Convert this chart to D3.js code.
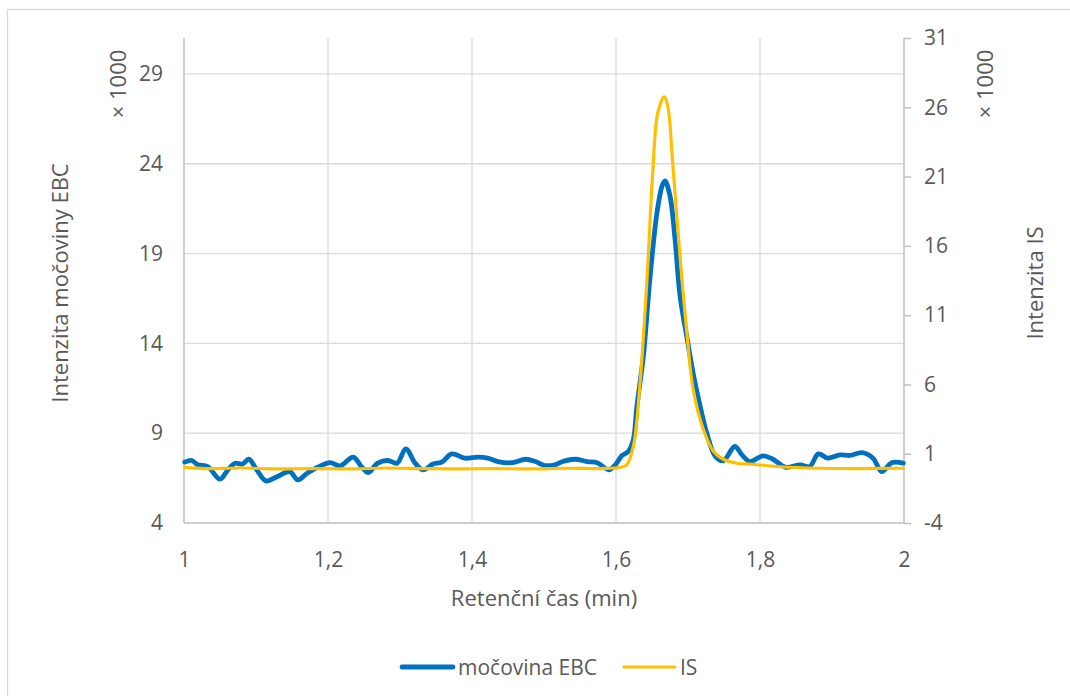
<!DOCTYPE html>
<html lang="cs">
<head>
<meta charset="utf-8">
<title>Intenzita močoviny EBC a IS</title>
<script src="https://cdn.jsdelivr.net/npm/d3@7"></script>
<style>
  body { margin: 0; background: #fff; }
  svg text { font-family: "Open Sans", sans-serif; fill: #595959; }
  .tick text { font-size: 21px; }
  .title { font-size: 22px; }
  .legend text { font-size: 21px; }
  .grid line { stroke: #d9d9d9; stroke-width: 1.3; }
</style>
</head>
<body>
<svg id="chart" width="1070" height="696"></svg>
<script>
// retention time (min) and intensities (x 1000)
var ebcTime = [1.001, 1.011, 1.019, 1.033, 1.050, 1.061, 1.071, 1.081, 1.090, 1.101, 1.114, 1.129, 1.147, 1.158, 1.171, 1.185,
  1.203, 1.217, 1.235, 1.247, 1.256, 1.269, 1.283, 1.296, 1.308, 1.321, 1.332, 1.346, 1.358, 1.372, 1.390, 1.408, 1.422,
  1.436, 1.456, 1.474, 1.488, 1.501, 1.515, 1.526, 1.543, 1.560, 1.574, 1.590, 1.599, 1.608, 1.617, 1.624, 1.629, 1.638,
  1.647, 1.657, 1.664, 1.668, 1.675, 1.682, 1.689, 1.699, 1.707, 1.717, 1.726, 1.738, 1.749, 1.765, 1.775, 1.786, 1.804,
  1.818, 1.835, 1.856, 1.869, 1.881, 1.894, 1.911, 1.925, 1.942, 1.957, 1.969, 1.983, 1.999];
var ebcValues = [7.39, 7.48, 7.24, 7.14, 6.44, 6.96, 7.33, 7.28, 7.55, 6.96, 6.34, 6.58, 6.86, 6.40, 6.77, 7.09,
  7.36, 7.18, 7.67, 7.11, 6.81, 7.33, 7.48, 7.33, 8.13, 7.33, 6.96, 7.28, 7.39, 7.85, 7.61, 7.67, 7.61,
  7.42, 7.36, 7.55, 7.42, 7.20, 7.24, 7.42, 7.55, 7.42, 7.36, 6.96, 7.24, 7.74, 7.98, 8.63, 10.49, 13.28,
  17.56, 21.30, 22.77, 23.05, 22.21, 19.79, 16.63, 14.21, 12.37, 10.49, 9.01, 7.70, 7.46, 8.26, 7.79, 7.42, 7.74,
  7.55, 7.11, 7.24, 7.14, 7.85, 7.61, 7.79, 7.76, 7.92, 7.61, 6.86, 7.36, 7.33];

var isTime = [1.001, 1.030, 1.080, 1.130, 1.180, 1.230, 1.280, 1.330, 1.380, 1.430, 1.480, 1.530, 1.580, 1.606, 1.615,
  1.624, 1.633, 1.643, 1.651, 1.658, 1.667, 1.672, 1.679, 1.689, 1.699, 1.707, 1.721, 1.735, 1.749, 1.768, 1.790,
  1.828, 1.883, 1.939, 1.999];
var isValues = [0.01, -0.07, -0.03, -0.10, -0.07, -0.10, -0.03, -0.07, -0.10, -0.07, -0.10, -0.05, -0.07, 0.02, 0.20,
  1.51, 5.84, 13.54, 21.26, 25.59, 26.76, 26.04, 21.80, 15.20, 9.40, 5.70, 2.80, 1.20, 0.60, 0.31, 0.24,
  0.06, -0.05, -0.07, -0.05];

var xTicks = [1, 1.2, 1.4, 1.6, 1.8, 2];
var leftTicks = [4, 9, 14, 19, 24, 29];
var rightTicks = [-4, 1, 6, 11, 16, 21, 26, 31];

var seriesNames = ['močovina EBC', 'IS'];
var seriesColors = ['#0070c0', '#ffc000'];

var svg = d3.select('#chart');
var plotL = 184, plotR = 904, plotT = 38, plotB = 523;

var x = d3.scaleLinear().domain([1, 2]).range([plotL, plotR]);
var yL = d3.scaleLinear().domain([4, 31]).range([plotB, plotT]);
var yR = d3.scaleLinear().domain([-4, 31]).range([plotB, plotT]);
// decimal comma, plain hyphen for negatives
var fmt = function(d){ return String(d).replace('.', ','); };

// chart frame
svg.append('rect')
  .attr('x', 7.5).attr('y', 9.5)
  .attr('width', 1100).attr('height', 720)
  .attr('fill', 'none').attr('stroke', '#d9d9d9').attr('stroke-width', 1.3);

// gridlines
var grid = svg.append('g').attr('class', 'grid');
grid.selectAll('.h').data(leftTicks.slice(1)).enter().append('line')
  .attr('x1', plotL).attr('x2', plotR)
  .attr('y1', function(d){ return yL(d); }).attr('y2', function(d){ return yL(d); });
grid.selectAll('.v').data(xTicks.slice(1, -1)).enter().append('line')
  .attr('y1', plotT).attr('y2', plotB)
  .attr('x1', function(d){ return x(d); }).attr('x2', function(d){ return x(d); });

// axes
var xAxis = svg.append('g')
  .attr('transform', 'translate(0,' + plotB + ')')
  .call(d3.axisBottom(x).tickValues(xTicks).tickFormat(fmt).tickSize(0).tickPadding(29));
var yAxisL = svg.append('g')
  .attr('transform', 'translate(' + plotL + ',0)')
  .call(d3.axisLeft(yL).tickValues(leftTicks).tickFormat(fmt).tickSize(0).tickPadding(21));
var yAxisR = svg.append('g')
  .attr('transform', 'translate(' + plotR + ',0)')
  .call(d3.axisRight(yR).tickValues(rightTicks).tickFormat(fmt).tickSize(7).tickPadding(13));

[xAxis, yAxisL, yAxisR].forEach(function(a){
  a.select('.domain').attr('stroke', '#bfbfbf').attr('stroke-width', 1.5);
  a.selectAll('.tick line').attr('stroke', '#bfbfbf').attr('stroke-width', 1.5);
  a.selectAll('.tick text').attr('fill', '#595959').style('font-family', '"Open Sans", sans-serif');
});
xAxis.select('.domain').attr('d', 'M' + plotL + ',0H' + plotR);
yAxisL.select('.domain').attr('d', 'M0,' + plotT + 'V' + plotB);
yAxisR.select('.domain').attr('d', 'M0,' + plotT + 'V' + plotB);

// lines
var lineL = d3.line()
  .x(function(d){ return x(d[0]); })
  .y(function(d){ return yL(d[1]); })
  .curve(d3.curveCatmullRom);
var lineR = d3.line()
  .x(function(d){ return x(d[0]); })
  .y(function(d){ return yR(d[1]); })
  .curve(d3.curveCatmullRom);

svg.append('path')
  .datum(d3.zip(ebcTime, ebcValues))
  .attr('d', lineL)
  .attr('fill', 'none').attr('stroke', seriesColors[0])
  .attr('stroke-width', 4.8).attr('stroke-linejoin', 'round').attr('stroke-linecap', 'round');

svg.append('path')
  .datum(d3.zip(isTime, isValues))
  .attr('d', lineR)
  .attr('fill', 'none').attr('stroke', seriesColors[1])
  .attr('stroke-width', 3.2).attr('stroke-linejoin', 'round').attr('stroke-linecap', 'round');

// axis titles
svg.append('text').attr('class', 'title')
  .attr('text-anchor', 'middle')
  .attr('transform', 'translate(68,283) rotate(-90)')
  .text('Intenzita močoviny EBC');
svg.append('text').attr('class', 'title')
  .attr('text-anchor', 'middle')
  .attr('transform', 'translate(126,84) rotate(-90)')
  .text('× 1000');
svg.append('text').attr('class', 'title')
  .attr('text-anchor', 'middle')
  .attr('transform', 'translate(1043,283) rotate(-90)')
  .text('Intenzita IS');
svg.append('text').attr('class', 'title')
  .attr('text-anchor', 'middle')
  .attr('transform', 'translate(993,84) rotate(-90)')
  .text('× 1000');
svg.append('text').attr('class', 'title')
  .attr('text-anchor', 'middle')
  .attr('x', (plotL + plotR) / 2).attr('y', 606)
  .text('Retenční čas (min)');

// legend
var legendX = [400, 622];
var legend = svg.append('g').attr('class', 'legend');
seriesNames.forEach(function(name, i){
  legend.append('line')
    .attr('x1', legendX[i] + 2).attr('x2', legendX[i] + 53)
    .attr('y1', 667).attr('y2', 667)
    .attr('stroke', seriesColors[i]).attr('stroke-width', i === 0 ? 4.8 : 3.2)
    .attr('stroke-linecap', 'round');
  legend.append('text')
    .attr('x', legendX[i] + 58).attr('y', 675)
    .text(name);
});
</script>
</body>
</html>
